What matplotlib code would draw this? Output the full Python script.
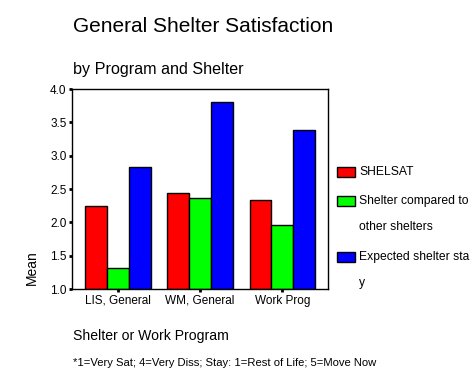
import matplotlib
matplotlib.use("Agg")
import matplotlib.pyplot as plt
from matplotlib.patches import Rectangle
import numpy as np

categories = ["LIS, General", "WM, General", "Work Prog"]
series_names = ["SHELSAT", "Shelter compared to\nother shelters", "Expected shelter sta\ny"]
shelsat = [2.24, 2.44, 2.33]
compared = [1.31, 2.36, 1.96]
expected = [2.83, 3.81, 3.39]
yticks = [1.0, 1.5, 2.0, 2.5, 3.0, 3.5, 4.0]
colors = ["#FF0000", "#00FF00", "#0000FF"]

plt.rcParams['font.family'] = ['Liberation Sans', 'DejaVu Sans']

fig = plt.figure(figsize=(4.76, 3.81), dpi=100)
ax = fig.add_axes([72/476, 1-289/381, 256.3/476, 200/381])

x = np.arange(len(categories))
w = 0.265
for i, vals in enumerate([shelsat, compared, expected]):
    ax.bar(x + (i-1)*w, np.array(vals) - 1.0, w, bottom=1.0, color=colors[i],
           edgecolor='black', linewidth=1.0)

ax.set_xlim(-0.56, 2.56)
ax.set_ylim(1.0, 4.0)
ax.set_yticks(yticks)
ax.set_yticklabels([f"{t:.1f}" for t in yticks], fontsize=8.5)
ax.set_xticks(x)
ax.set_xticklabels(categories, fontsize=8.5)
ax.tick_params(axis='both', length=2.5, width=2, direction='out', pad=1.5)
for s in ax.spines.values():
    s.set_linewidth(1.0)

fig.text(73/476, 1-32/381, "General Shelter Satisfaction", fontsize=15, va='baseline', ha='left')
fig.text(73/476, 1-74/381, "by Program and Shelter", fontsize=11.6, va='baseline', ha='left')
fig.text(32/476, 1-268/381, "Mean", fontsize=10, rotation=90, va='center', ha='center')
fig.text(73/476, 1-340/381, "Shelter or Work Program", fontsize=10.1, va='baseline', ha='left')
fig.text(73/476, 1-366/381, "*1=Very Sat; 4=Very Diss; Stay: 1=Rest of Life; 5=Move Now",
         fontsize=8.1, va='baseline', ha='left')

# legend
leg_y = [172, 201, 257]
for i, name in enumerate(series_names):
    yc = leg_y[i]
    fig.patches.append(Rectangle((337/476, 1-(yc+5)/381), 18/476, 10/381,
                                 transform=fig.transFigure, facecolor=colors[i],
                                 edgecolor='black', linewidth=1.0))
    lines = name.split("\n")
    for j, ln in enumerate(lines):
        fig.text(359/476, 1-(yc + j*26)/381, ln, fontsize=8.7, va='center', ha='left')

fig.savefig("out.png", dpi=100)
